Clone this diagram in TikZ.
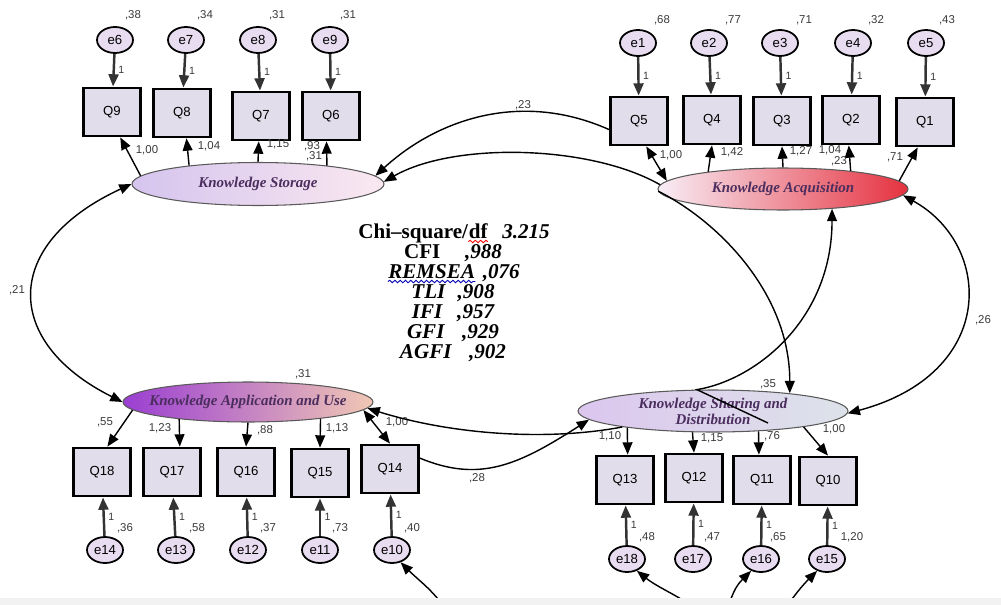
\documentclass[tikz,border=0pt]{standalone}
\usepackage{fontspec}
\setmainfont{Liberation Serif}
\setsansfont{Liberation Sans}
\usepackage{tikz}
\usetikzlibrary{positioning,arrows.meta,shapes.geometric,calc,decorations.pathmorphing}

\definecolor{itemfill}{HTML}{E1DDEA}
\definecolor{errfill}{HTML}{E8DCF0}
\definecolor{lattext}{HTML}{4B2D5E}
\definecolor{numtext}{HTML}{3A3A3A}
\definecolor{ksleft}{HTML}{D5C4EE}
\definecolor{ksright}{HTML}{FAE8F0}
\definecolor{kaleft}{HTML}{F8EEF6}
\definecolor{kamid}{HTML}{EAB4D0}
\definecolor{karight}{HTML}{E5323F}
\definecolor{kauleft}{HTML}{9A3ED2}
\definecolor{kaumid}{HTML}{B46AD8}
\definecolor{kauright}{HTML}{F0C8B4}
\definecolor{ksdleft}{HTML}{DCC6EE}
\definecolor{ksdright}{HTML}{DDE3EA}

\begin{document}
\begin{tikzpicture}[
    x=0.02cm,y=-0.02cm,>={Triangle[length=7pt,width=5.6pt]},
    font=\sffamily\fontsize{7.5}{8}\selectfont,
    item/.style={draw,line width=1.6pt,fill=itemfill,minimum width=1.14cm,
      minimum height=0.96cm,inner sep=0pt},
    err/.style={ellipse,draw,line width=1pt,fill=errfill,minimum width=0.72cm,
      minimum height=0.52cm,inner sep=0pt},
    latent/.style={ellipse,draw=black!65,line width=0.6pt,inner xsep=-8pt,
      inner ysep=-2pt,align=center,text=lattext,
      font=\rmfamily\bfseries\itshape\fontsize{8.5}{9}\selectfont},
    num/.style={inner sep=0pt,text=numtext,font=\sffamily\fontsize{6.5}{7}\selectfont},
    one/.style={num,right=2pt,font=\sffamily\fontsize{6}{6}\selectfont},
    fix/.style={->,line width=1.4pt,draw=black!80},
    load/.style={->,line width=0.8pt},
    cov/.style={->,line width=0.8pt},
    fitline/.style={inner sep=0pt,font=\rmfamily\bfseries\fontsize{12}{12}\selectfont},
    fitval/.style={fitline,font=\rmfamily\bfseries\itshape\fontsize{12}{12}\selectfont},
    wavy/.style={decorate,decoration={snake,amplitude=0.7pt,segment length=3pt},
      line width=0.5pt}
]
\useasboundingbox (0,0) rectangle (1001,605);
\clip (0,0) rectangle (1001,605);

% Knowledge Storage
\node[latent,minimum width=5.04cm,minimum height=0.86cm,left color=ksleft,
  right color=ksright] (KS) at (258,184) {Knowledge Storage};
\node[item] (Q9) at (112,112) {Q9};
\node[item] (Q8) at (182,113) {Q8};
\node[item] (Q7) at (261,116) {Q7};
\node[item] (Q6) at (331,116) {Q6};
\node[err] (e6) at (115,40) {e6};
\node[err] (e7) at (186,40) {e7};
\node[err] (e8) at (258,40) {e8};
\node[err] (e9) at (330,40) {e9};
\node[num] (v6) at (133,15) {,38};
\node[num] (v7) at (205,15) {,34};
\node[num] (v8) at (277,15) {,31};
\node[num] (v9) at (348,15) {,31};
\draw[fix] (e6) -- node[one] (o6) {1} (Q9);
\draw[fix] (e7) -- node[one] (o7) {1} (Q8);
\draw[fix] (e8) -- node[one] (o8) {1} (Q7);
\draw[fix] (e9) -- node[one] (o9) {1} (Q6);
\draw[load] (KS.176) -- (Q9.-72);
\draw[load] (KS.165) -- (Q8.-80);
\draw[load] (KS.90) -- (Q7.-95);
\draw[load] (KS.15) -- (Q6.-100);
\node[num] (l9) at (147,150) {1,00};
\node[num] (l8) at (209,146) {1,04};
\node[num] (l7) at (278,144) {1,15};
\node[num] (l6) at (312,146) {,93};
\node[num] (vks) at (314,156) {,31};

% Knowledge Acquisition
\node[latent,minimum width=5cm,minimum height=0.84cm,left color=kaleft,
  middle color=kamid,right color=karight] (KA) at (783,189) {Knowledge Acquisition};
\node[item] (Q5) at (639,121) {Q5};
\node[item] (Q4) at (712,120) {Q4};
\node[item] (Q3) at (782,121) {Q3};
\node[item] (Q2) at (851,120) {Q2};
\node[item] (Q1) at (925,122) {Q1};
\node[err] (e1) at (638,43) {e1};
\node[err] (e2) at (709,43) {e2};
\node[err] (e3) at (780,43) {e3};
\node[err] (e4) at (853,43) {e4};
\node[err] (e5) at (926,43) {e5};
\node[num] (v1) at (662,20) {,68};
\node[num] (v2) at (733,20) {,77};
\node[num] (v3) at (804,20) {,71};
\node[num] (v4) at (876,20) {,32};
\node[num] (v5) at (947,20) {,43};
\draw[fix] (e1) -- node[one] (o1) {1} (Q5);
\draw[fix] (e2) -- node[one] (o2) {1} (Q4);
\draw[fix] (e3) -- node[one] (o3) {1} (Q3);
\draw[fix] (e4) -- node[one] (o4) {1} (Q2);
\draw[fix] (e5) -- node[one] (o5) {1} (Q1);
\draw[load,<->] (KA.176) -- (Q5.-74);
\draw[load] (KA.167) -- (Q4.south);
\draw[load] (KA.90) -- (Q3.south);
\draw[load] (KA.15) -- (Q2.-95);
\draw[load] (KA.4) -- (Q1.-106);
\node[num] (l5) at (671,155) {1,00};
\node[num] (l4) at (732,152) {1,42};
\node[num] (l3) at (801,151) {1,27};
\node[num] (l2) at (830,150) {1,04};
\node[num] (vka) at (839,161) {,23};
\node[num] (l1) at (895,157) {,71};

% Knowledge Application and Use
\node[latent,minimum width=5cm,minimum height=0.8cm,left color=kauleft,
  middle color=kaumid,right color=kauright] (KAU) at (248,402)
  {Knowledge Application and Use};
\node[item] (Q18) at (102,472) {Q18};
\node[item] (Q17) at (172,472) {Q17};
\node[item] (Q16) at (246,472) {Q16};
\node[item] (Q15) at (320,473) {Q15};
\node[item] (Q14) at (390,469) {Q14};
\node[err] (e14) at (105,550) {e14};
\node[err] (e13) at (176,550) {e13};
\node[err] (e12) at (248,550) {e12};
\node[err] (e11) at (320,550) {e11};
\node[err] (e10) at (392,550) {e10};
\node[num] (v14) at (125,528) {,36};
\node[num] (v13) at (197,528) {,58};
\node[num] (v12) at (268,528) {,37};
\node[num] (v11) at (340,528) {,73};
\node[num] (v10) at (412,528) {,40};
\draw[fix] (e14) -- node[one] (o14) {1} (Q18);
\draw[fix] (e13) -- node[one] (o13) {1} (Q17);
\draw[fix] (e12) -- node[one] (o12) {1} (Q16);
\draw[fix] (e11) -- node[one] (o11) {1} (Q15);
\draw[fix] (e10) -- node[one] (o10) {1} (Q14);
\draw[load] (KAU.-176) -- (Q18.78);
\draw[load] (KAU.-166) -- (Q17.73);
\draw[load] (KAU.-90) -- (Q16.north);
\draw[load] (KAU.-13) -- (Q15.north);
\draw[load,<->] (KAU.-4) -- (Q14.north);
\node[num] (l18) at (105,422) {,55};
\node[num] (l17) at (160,428) {1,23};
\node[num] (l16) at (265,430) {,88};
\node[num] (l15) at (337,428) {1,13};
\node[num] (l14) at (397,422) {1,00};
\node[num] (vkau) at (303,374) {,31};

% Knowledge Sharing and Distribution
\node[latent,minimum width=5.4cm,minimum height=0.84cm,left color=ksdleft,
  right color=ksdright] (KSD) at (713,411) {Knowledge Sharing and\\Distribution};
\node[item] (Q13) at (625,480) {Q13};
\node[item] (Q12) at (694,478) {Q12};
\node[item] (Q11) at (762,480) {Q11};
\node[item] (Q10) at (828,481) {Q10};
\node[err] (e18) at (627,559) {e18};
\node[err] (e17) at (693,559) {e17};
\node[err] (e16) at (761,559) {e16};
\node[err] (e15) at (827,559) {e15};
\node[num] (v18) at (647,537) {,48};
\node[num] (v17) at (712,537) {,47};
\node[num] (v16) at (778,537) {,65};
\node[num] (v15) at (852,537) {1,20};
\draw[fix] (e18) -- node[one] (o18) {1} (Q13);
\draw[fix] (e17) -- node[one] (o17) {1} (Q12);
\draw[fix] (e16) -- node[one] (o16) {1} (Q11);
\draw[fix] (e15) -- node[one] (o15) {1} (Q10);
\draw[load] (KSD.-169) -- (Q13.84);
\draw[load] (KSD.-134) -- (Q12.north);
\draw[load] (KSD.-24) -- (Q11.97);
\draw[load] (KSD.-10) -- (Q10.north);
\node[num] (l13) at (610,436) {1,10};
\node[num] (l12) at (712,438) {1,15};
\node[num] (l11) at (772,436) {,76};
\node[num] (l10) at (834,429) {1,00};

% covariances between the factors
\draw[cov] (Q5.196) .. controls +(-90,-40) and +(60,-55) .. (KS.4);
\draw[cov] (KA.178) .. controls +(-70,-40) and +(70,-40) .. (KS.1);
\draw[cov] (KA.181) .. controls +(60,30) and +(0,-100) .. (KSD.13);
\draw[cov] ($(KSD.center)+(55,12)$) -- (KSD.127)
  .. controls +(60,-10) and +(0,110) .. (KA.-22);
\draw[cov,<->] (KS.180) .. controls +(-130,60) and +(-120,-60) .. (KAU.180);
\draw[cov,<->] (KA.-3) .. controls +(90,50) and +(150,-40) .. (KSD.-1);
\draw[cov] (KSD.-170) .. controls +(-80,15) and +(80,25) .. (KAU.-3);
\draw[cov] (Q14.20) .. controls +(60,25) and +(-70,45) .. (KSD.-176);
\node[num] (c23) at (523,105) {,23};
\node[num] (c21) at (17,290) {,21};
\node[num] (c26) at (983,320) {,26};
\node[num] (c35) at (768,384) {,35};
\node[num] (c28) at (477,478) {,28};

% residual covariances running off the bottom
\coordinate (b10) at (455,625);
\coordinate (b18) at (712,625);
\coordinate (b16) at (718,625);
\coordinate (b15) at (772,625);
\draw[cov] (b10) .. controls +(-15,-30) and +(20,20) .. (e10.-55);
\draw[cov] (b18) .. controls +(-20,-25) and +(25,20) .. (e18.-50);
\draw[cov] (b16) .. controls +(15,-25) and +(-20,20) .. (e16.-130);
\draw[cov] (b15) .. controls +(20,-25) and +(-20,20) .. (e15.-130);

% fit indices
\node[fitline,anchor=base west] (chi) at (358,238) {Chi–square/};
\node[fitline,anchor=base west] (chidf) at (chi.base east) {df};
\node[fitval,anchor=base west] (chiv) at ([xshift=8pt]chidf.base east) {3.215};
\draw[wavy,red] ([yshift=-2pt]chidf.base west) -- ([yshift=-2pt]chidf.base east);
\node[fitline,anchor=base] (cfi) at (453,258) {CFI\hspace{14pt}\textit{,988}};
\node[fitval,anchor=base west] (rem) at (388,278) {REMSEA};
\node[fitval,anchor=base west] (remv) at ([xshift=4pt]rem.base east) {,076};
\draw[wavy,blue!70!black] ([yshift=-2pt]rem.base west) -- ([yshift=-2pt]rem.base east);
\node[fitval,anchor=base] (tli) at (453,298) {TLI\hspace{7pt},908};
\node[fitval,anchor=base] (ifi) at (453,318) {IFI\hspace{8.5pt},957};
\node[fitval,anchor=base] (gfi) at (453,338) {GFI\hspace{10pt},929};
\node[fitval,anchor=base] (agfi) at (453,358) {AGFI\hspace{10pt},902};

\fill[black!5] (0,598) rectangle (1001,605);
\end{tikzpicture}
\end{document}
